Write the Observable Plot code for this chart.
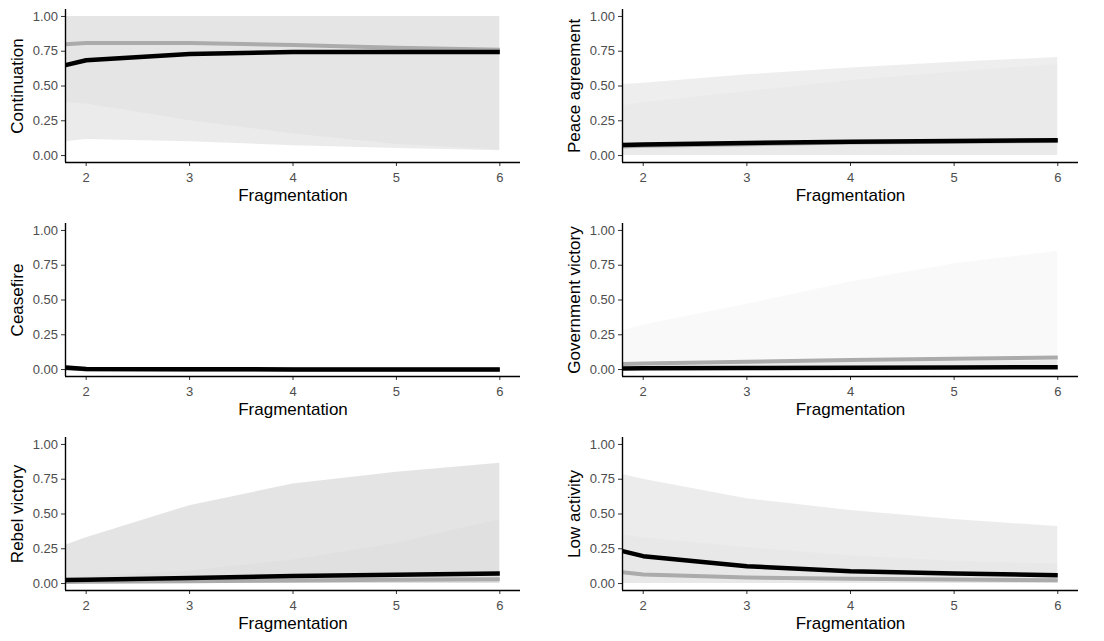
<!DOCTYPE html>
<html>
<head>
<meta charset="utf-8">
<script src="https://cdn.jsdelivr.net/npm/d3@7"></script>
<script src="https://cdn.jsdelivr.net/npm/@observablehq/plot@0.6"></script>
<style>
  html, body { margin: 0; padding: 0; background: #fff; }
  #grid { display: grid; grid-template-columns: 552px 552px; grid-auto-rows: 214px; width: 1104px; }
  #grid svg { display: block; }
</style>
</head>
<body>
<div id="grid"></div>
<script>
// ---- data ----
const fragmentation = [1.8, 2, 3, 4, 5, 6];
const outcomes = ["Continuation", "Peace agreement", "Ceasefire", "Government victory", "Rebel victory", "Low activity"];
const xTicks = [2, 3, 4, 5, 6];
const yTicks = [0, 0.25, 0.5, 0.75, 1];

// fitted lines (one row per outcome)
const fitBlack = [
  [0.65, 0.685, 0.73, 0.745, 0.745, 0.745],
  [0.075, 0.08, 0.09, 0.10, 0.105, 0.11],
  [0.015, 0.004, 0.002, 0.001, 0.001, 0.001],
  [0.008, 0.009, 0.011, 0.013, 0.015, 0.017],
  [0.026, 0.028, 0.04, 0.055, 0.064, 0.072],
  [0.233, 0.197, 0.125, 0.089, 0.072, 0.06]
];
const fitGrey = [
  [0.80, 0.81, 0.81, 0.795, 0.775, 0.76],
  [0.065, 0.07, 0.082, 0.093, 0.10, 0.105],
  [0.008, 0.003, 0.001, 0.001, 0.001, 0.001],
  [0.04, 0.043, 0.056, 0.068, 0.078, 0.087],
  [0.012, 0.013, 0.017, 0.022, 0.027, 0.03],
  [0.082, 0.065, 0.043, 0.034, 0.029, 0.024]
];
// confidence bands
const bandALow = [
  [0.10, 0.115, 0.10, 0.07, 0.05, 0.035],
  [0, 0, 0, 0, 0, 0],
  [0, 0, 0, 0, 0, 0],
  [0, 0, 0, 0, 0, 0],
  [0, 0, 0, 0, 0, 0],
  [0, 0, 0, 0, 0, 0]
];
const bandAHigh = [
  [1, 1, 1, 1, 1, 1],
  [0.51, 0.52, 0.58, 0.63, 0.67, 0.705],
  [0.02, 0.01, 0.006, 0.005, 0.005, 0.005],
  [0.28, 0.32, 0.47, 0.63, 0.76, 0.85],
  [0.275, 0.33, 0.56, 0.715, 0.80, 0.865],
  [0.784, 0.75, 0.61, 0.525, 0.46, 0.41]
];
const bandBLow = [
  [0.38, 0.37, 0.25, 0.155, 0.08, 0.04],
  [0, 0, 0, 0, 0, 0],
  [0, 0, 0, 0, 0, 0],
  [0, 0, 0, 0, 0, 0],
  [0, 0, 0, 0, 0, 0],
  [0, 0, 0, 0, 0, 0]
];
const bandBHigh = [
  [1, 1, 1, 1, 1, 1],
  [0.36, 0.38, 0.46, 0.54, 0.60, 0.655],
  [0.015, 0.008, 0.005, 0.004, 0.004, 0.004],
  [0.035, 0.037, 0.045, 0.052, 0.058, 0.065],
  [0.04, 0.05, 0.09, 0.17, 0.29, 0.46],
  [0.35, 0.33, 0.26, 0.20, 0.16, 0.14]
];

// ---- styles ----
const bandOpacity = [[0.08, 0.022], [0.065, 0.016], [0.05, 0.05], [0.025, 0.06], [0.105, 0.016], [0.075, 0.016]];
const FONT = "'Liberation Sans', Arial, Helvetica, sans-serif";
const xDomain = [1.8, 6.2];
const yDomain = [-0.05, 1.05];

const grid = document.getElementById("grid");

outcomes.forEach((name, i) => {
  const col = i % 2;
  const rows = fragmentation.map((x, j) => ({
    x,
    black: fitBlack[i][j],
    grey: fitGrey[i][j],
    aLo: bandALow[i][j], aHi: bandAHigh[i][j],
    bLo: bandBLow[i][j], bHi: bandBHigh[i][j]
  }));

  const svg = Plot.plot({
    width: 552,
    height: 214,
    marginLeft: col ? 70 : 65,
    marginRight: col ? 26 : 32,
    marginTop: 9,
    marginBottom: 52,
    style: { fontFamily: FONT, background: "white", overflow: "visible" },
    x: { domain: xDomain },
    y: { domain: yDomain },
    marks: [
      Plot.areaY(rows, { x: "x", y1: "aLo", y2: "aHi", fill: "black", fillOpacity: bandOpacity[i][0] }),
      Plot.areaY(rows, { x: "x", y1: "bLo", y2: "bHi", fill: "black", fillOpacity: bandOpacity[i][1] }),
      Plot.line(rows, { x: "x", y: "grey", stroke: "#ababab", strokeWidth: 4, strokeLinecap: "butt" }),
      Plot.line(rows, { x: "x", y: "black", stroke: "black", strokeWidth: 4.5, strokeLinecap: "butt" }),
      Plot.axisY({
        ticks: yTicks, tickFormat: d3.format(".2f"), tickSize: 4, tickPadding: 3.5,
        fontSize: 13, fill: "#4d4d4d", stroke: "#333",
        label: name, labelAnchor: "center", labelOffset: 55, labelArrow: "none"
      }),
      Plot.axisX({
        ticks: xTicks, tickFormat: "d", tickSize: 4, tickPadding: 6,
        fontSize: 13, fill: "#4d4d4d", stroke: "#333",
        label: "Fragmentation", labelAnchor: "center", labelOffset: 38, labelArrow: "none"
      }),
      Plot.ruleX([xDomain[0]], { stroke: "black", strokeWidth: 1.4 }),
      Plot.ruleY([yDomain[0]], { stroke: "black", strokeWidth: 1.4 })
    ]
  });

  d3.select(svg).selectAll('g[aria-label="y-axis label"], g[aria-label="x-axis label"]')
    .attr("fill", "black").attr("font-size", 17);
  d3.select(svg).selectAll('g[aria-label="y-axis label"] text, g[aria-label="x-axis label"] text')
    .attr("fill", "black");
  grid.appendChild(svg);
});
</script>
</body>
</html>
